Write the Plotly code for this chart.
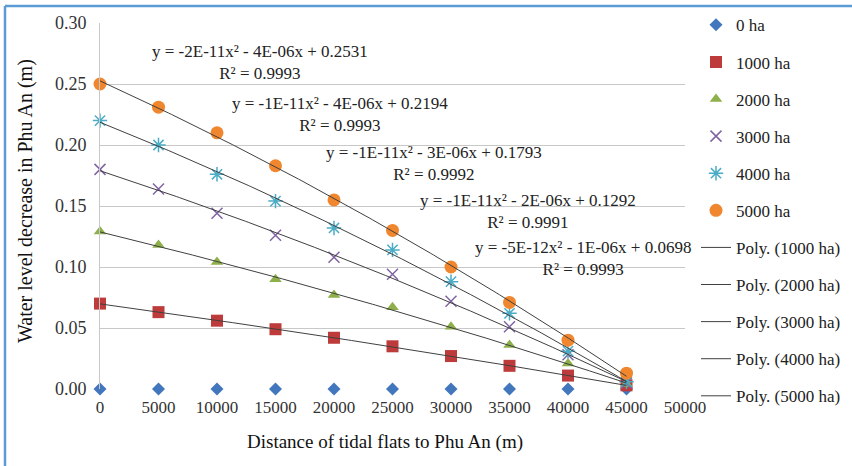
import numpy as np
import plotly.graph_objects as go

distance = [0, 5000, 10000, 15000, 20000, 25000, 30000, 35000, 40000, 45000]
ha0 = [0, 0, 0, 0, 0, 0, 0, 0, 0, 0]
ha1000 = [0.070, 0.063, 0.056, 0.049, 0.042, 0.035, 0.027, 0.019, 0.011, 0.003]
ha2000 = [0.129, 0.118, 0.104, 0.090, 0.077, 0.067, 0.051, 0.036, 0.021, 0.004]
ha3000 = [0.180, 0.164, 0.144, 0.126, 0.108, 0.094, 0.072, 0.051, 0.028, 0.005]
ha4000 = [0.220, 0.200, 0.176, 0.154, 0.132, 0.114, 0.088, 0.062, 0.031, 0.006]
ha5000 = [0.250, 0.231, 0.210, 0.183, 0.155, 0.130, 0.100, 0.071, 0.040, 0.013]

series_names = ["0 ha", "1000 ha", "2000 ha", "3000 ha", "4000 ha", "5000 ha"]
series_vals = [ha0, ha1000, ha2000, ha3000, ha4000, ha5000]
equations = [
    "y = -5E-12x² - 1E-06x + 0.0698<br>R² = 0.9993",
    "y = -1E-11x² - 2E-06x + 0.1292<br>R² = 0.9991",
    "y = -1E-11x² - 3E-06x + 0.1793<br>R² = 0.9992",
    "y = -1E-11x² - 4E-06x + 0.2194<br>R² = 0.9993",
    "y = -2E-11x² - 4E-06x + 0.2531<br>R² = 0.9993",
]
eq_pos = [(41282, 0.1066), (36581, 0.1455), (28547, 0.1848), (20513, 0.225), (13675, 0.268)]

styles = [
    dict(symbol="diamond", color="#4277bd", size=10),
    dict(symbol="square", color="#bd3b3a", size=12),
    dict(symbol="triangle-up", color="#8db04a", size=11),
    dict(symbol="x-thin", color="#8064a2", size=11, line=dict(width=1.5, color="#8064a2")),
    dict(symbol="asterisk", color="#4bacc6", size=12, line=dict(width=1.5, color="#4bacc6")),
    dict(symbol="circle", color="#f0862d", size=13),
]

FONT = "Liberation Serif"

fig = go.Figure()
for i, (name, vals) in enumerate(zip(series_names, series_vals)):
    fig.add_trace(go.Scatter(
        x=distance, y=vals, mode="markers", name=name,
        marker=styles[i], legendgroup=name, cliponaxis=False,
    ))

xfit = np.linspace(distance[0], distance[-1], 200)
for name, vals in zip(series_names[1:], series_vals[1:]):
    c = np.polyfit(distance, vals, 2)
    fig.add_trace(go.Scatter(
        x=xfit, y=np.polyval(c, xfit), mode="lines",
        name=f"Poly. ({name})", line=dict(color="#404040", width=1),
        legendgroup="p" + name,
    ))

for (ex, ey), txt in zip(eq_pos, equations):
    fig.add_annotation(x=ex, y=ey, text=txt, showarrow=False,
                       xanchor="center", yanchor="middle",
                       font=dict(family=FONT, size=17, color="#222"))

fig.add_annotation(text="Distance of tidal flats to Phu An (m)", xref="paper", yref="paper",
                   x=(385 - 100) / 585, y=-(442 - 389) / 366, showarrow=False,
                   xanchor="center", yanchor="middle",
                   font=dict(family=FONT, size=19, color="#111"))
fig.add_annotation(text="Water level decrease in Phu An (m)", xref="paper", yref="paper",
                   x=-(100 - 25) / 585, y=(389 - 201) / 366, showarrow=False, textangle=-90,
                   xanchor="center", yanchor="middle",
                   font=dict(family=FONT, size=20, color="#111"))

bx = -(100 - 5) / 585
by = 1 + (23 - 6) / 366
fig.add_shape(type="line", xref="paper", yref="paper", x0=bx, x1=1.4, y0=by, y1=by,
              line=dict(color="#5b9bd5", width=2.5))
fig.add_shape(type="line", xref="paper", yref="paper", x0=bx, x1=bx, y0=by, y1=-0.3,
              line=dict(color="#5b9bd5", width=2.5))

fig.update_layout(
    width=852, height=466,
    margin=dict(l=100, r=167, t=23, b=77, autoexpand=False),
    paper_bgcolor="white", plot_bgcolor="white",
    font=dict(family=FONT, size=17, color="#222"),
    showlegend=True,
    legend=dict(x=(696 - 100) / 585, y=1.043, xanchor="left", yanchor="top",
                font=dict(family=FONT, size=17, color="#222"), maxheight=466,
                tracegroupgap=12, bgcolor="rgba(0,0,0,0)"),
    xaxis=dict(range=[0, 50000], dtick=5000, tick0=0, tickformat="d", showgrid=False,
               zeroline=False, showline=False, ticks="", ticklabelstandoff=6,
               automargin=False, tickfont=dict(family=FONT, size=17, color="#333")),
    yaxis=dict(range=[0, 0.30], dtick=0.05, tickformat=".2f", showgrid=True,
               gridcolor="#c8c8c8", gridwidth=1, zeroline=False, showline=True,
               linecolor="#c8c8c8", ticks="", ticklabelstandoff=9, automargin=False,
               tickfont=dict(family=FONT, size=18, color="#333")),
)
fig.write_html("out.html")
